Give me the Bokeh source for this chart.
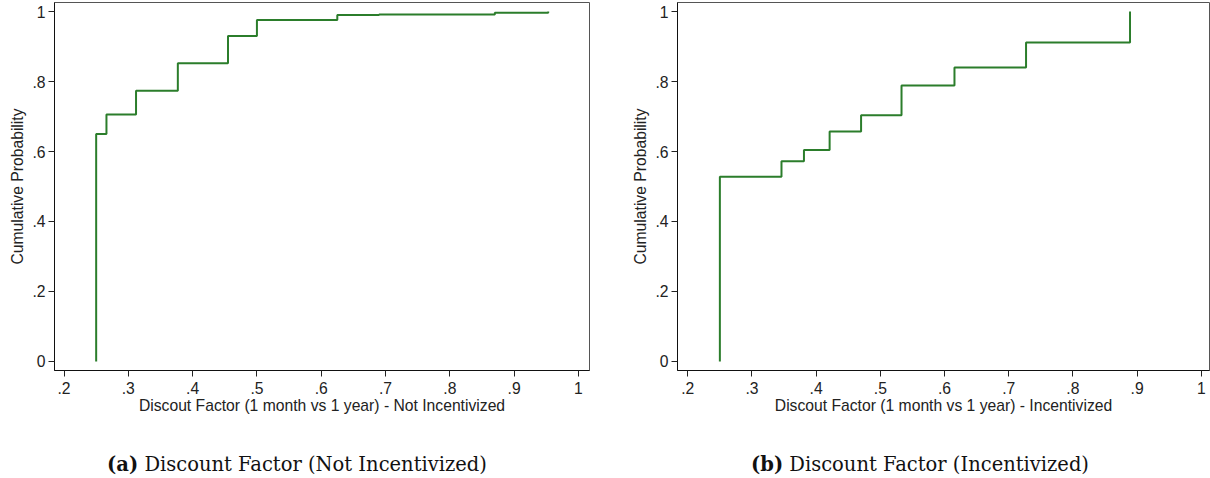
from bokeh.plotting import figure
from bokeh.layouts import column, row
from bokeh.models import FixedTicker, CustomJSTickFormatter, Range1d, Div, Spacer
from bokeh.embed import file_html
from bokeh.resources import INLINE

# ---- data ----
x_not_inc = [0.25, 0.25, 0.266, 0.312, 0.377, 0.455, 0.50, 0.625, 0.69, 0.87, 0.953]
y_not_inc = [0.0, 0.65, 0.706, 0.774, 0.852, 0.930, 0.976, 0.990, 0.992, 0.997, 1.0]

x_inc = [0.25, 0.25, 0.346, 0.381, 0.421, 0.470, 0.533, 0.6155, 0.727, 0.889]
y_inc = [0.0, 0.528, 0.572, 0.604, 0.6575, 0.704, 0.789, 0.840, 0.9115, 1.0]

x_ticks = [0.2, 0.3, 0.4, 0.5, 0.6, 0.7, 0.8, 0.9, 1.0]
y_ticks = [0.0, 0.2, 0.4, 0.6, 0.8, 1.0]

x_title_a = "Discout Factor (1 month vs 1 year) - Not Incentivized"
x_title_b = "Discout Factor (1 month vs 1 year) - Incentivized"
y_title = "Cumulative Probability"
caption_a = "<b>(a)</b> Discount Factor (Not Incentivized)"
caption_b = "<b>(b)</b> Discount Factor (Incentivized)"

LINE = "#2b7d2b"
FONT = "Liberation Sans"

fmt = CustomJSTickFormatter(code="""
    if (Math.abs(tick) < 1e-9) return "0";
    if (Math.abs(tick - 1) < 1e-9) return "1";
    return tick.toFixed(1).replace(/^0/, "");
""")


def make_panel(xs, ys, xtitle, width, left, right, xr):
    p = figure(width=width, height=446, output_backend="svg", toolbar_location=None,
               x_range=Range1d(*xr), y_range=Range1d(-0.026, 1.026),
               min_border_left=left, min_border_right=right, min_border_top=2,
               min_border_bottom=76)
    p.step(xs, ys, mode="after", line_color=LINE, line_width=2)
    p.xgrid.visible = False
    p.ygrid.visible = False
    p.outline_line_color = "#555555"
    p.outline_line_width = 1
    p.background_fill_color = "white"
    p.border_fill_color = "white"
    for ax, ticks in ((p.xaxis[0], x_ticks), (p.yaxis[0], y_ticks)):
        ax.ticker = FixedTicker(ticks=ticks)
        ax.formatter = fmt
        ax.minor_tick_line_color = None
        ax.major_tick_out = 6
        ax.major_tick_in = 0
        ax.major_tick_line_color = "#222222"
        ax.axis_line_color = "#111111"
        ax.major_label_text_font = FONT
        ax.major_label_text_font_size = "15.7px"
        ax.major_label_text_color = "#222222"
        ax.axis_label_text_font = FONT
        ax.axis_label_text_font_size = "15.7px"
        ax.axis_label_text_font_style = "normal"
        ax.axis_label_text_color = "#222222"
    p.xaxis[0].axis_label = xtitle
    p.xaxis[0].major_label_standoff = 5
    p.xaxis[0].axis_label_standoff = 0
    p.yaxis[0].axis_label = y_title
    p.yaxis[0].major_label_standoff = 3
    p.yaxis[0].axis_label_standoff = 3
    return p


p1 = make_panel(x_not_inc, y_not_inc, x_title_a, 605, 54, 16, (0.1852, 1.0172))
p2 = make_panel(x_inc, y_inc, x_title_b, 605, 72, 1, (0.184, 1.0128))

cap_style = {"font-family": "DejaVu Serif", "font-size": "19.5px", "text-align": "center",
             "color": "#111111", "width": "100%"}
d1 = Div(text=caption_a, width=584, height=32, styles=cap_style)
d2 = Div(text=caption_b, width=580, height=32, styles=cap_style)

layout = column(row(p1, p2, spacing=0),
                row(d1, Spacer(width=31, height=32), d2, spacing=0),
                spacing=0)

open("out.html", "w").write(file_html(layout, INLINE))
